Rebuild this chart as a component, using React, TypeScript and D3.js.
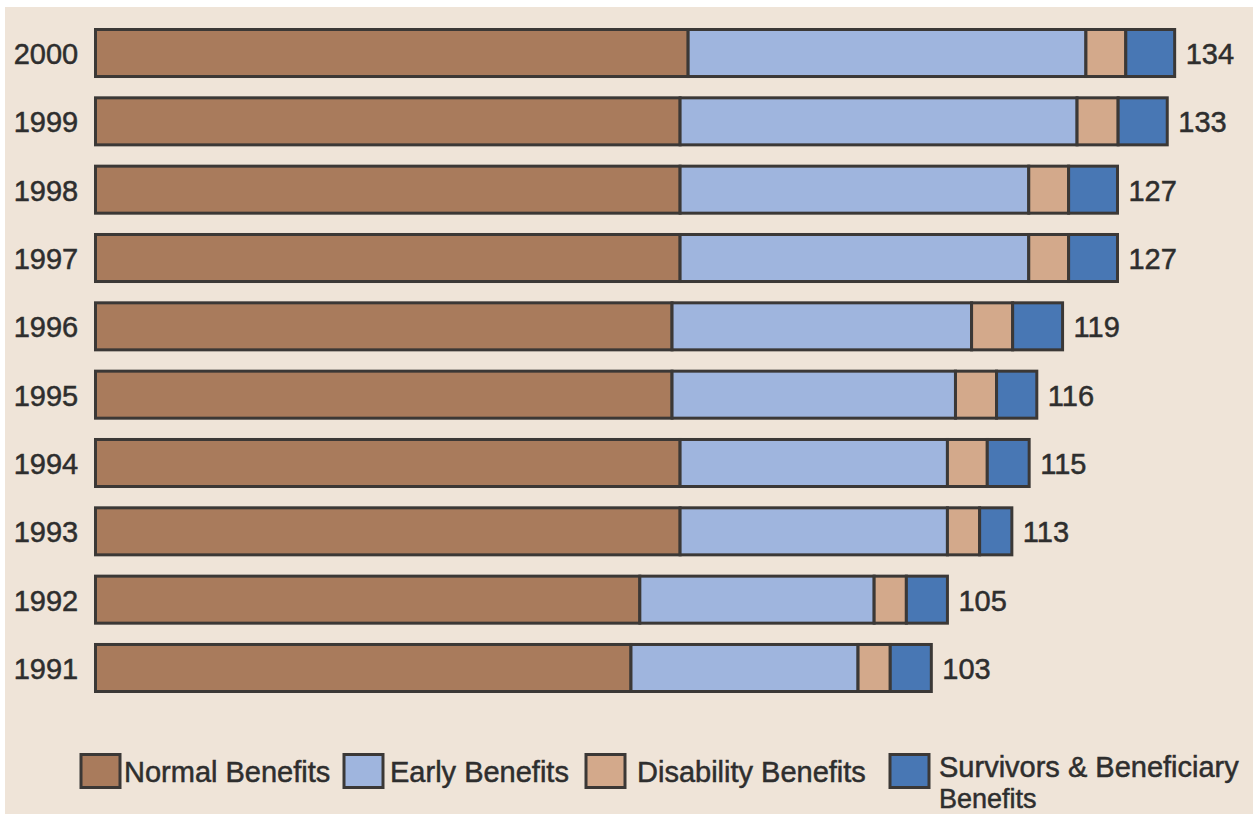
import React from "react";
import * as d3 from "d3";

const years = ["2000", "1999", "1998", "1997", "1996", "1995", "1994", "1993", "1992", "1991"];
const normalBenefits = [73.6, 72.6, 72.6, 72.6, 71.6, 71.6, 72.6, 72.6, 67.6, 66.5];
const earlyBenefits = [49.4, 49.3, 43.3, 43.3, 37.2, 35.2, 33.2, 33.2, 29.1, 28.2];
const disabilityBenefits = [4.95, 5.1, 4.95, 4.95, 5.1, 5.1, 4.95, 4.0, 4.0, 4.0];
const survivorsBenefits = [6.07, 6.1, 6.07, 6.07, 6.2, 5.0, 5.2, 4.0, 5.1, 5.1];
const totals = ["134", "133", "127", "127", "119", "116", "115", "113", "105", "103"];
const seriesNames = ["Normal Benefits", "Early Benefits", "Disability Benefits", "Survivors & Beneficiary Benefits"];

const COLORS = ["#a97b5c", "#9fb5de", "#d3a98b", "#4877b4"];
const STROKE = "#3b3836";
const BG = "#efe4d8";
const TEXT = "#2e2e2e";
const FONT = "'Liberation Sans', Arial, Helvetica, sans-serif";

export default function App() {
  const W = 1253;
  const H = 814;
  const series = [normalBenefits, earlyBenefits, disabilityBenefits, survivorsBenefits];
  const x = d3.scaleLinear().domain([0, 134]).range([95.5, 1174.5]);
  const y = d3.scaleBand<string>().domain(years).range([28, 693]).paddingInner(0.268).paddingOuter(0);
  const bw = y.bandwidth();

  const rows = years.map((yr, i) => {
    let acc = 0;
    const segs = series.map((s, k) => {
      const s0 = acc;
      acc += s[i];
      return { k, s0, s1: acc };
    });
    return { yr, i, segs, end: acc };
  });

  const legendItems = [
    { sx: 81, tx: 124 },
    { sx: 344, tx: 390 },
    { sx: 586, tx: 637 },
    { sx: 890, tx: 939 },
  ];

  const textProps = { fontSize: 29, fill: TEXT, stroke: TEXT, strokeWidth: 0.5 };

  return (
    <svg
      width={W}
      height={H}
      style={{ position: "absolute", left: 0, top: 0, background: "#ffffff" }}
      fontFamily={FONT}
    >
      <rect x={5} y={7} width={W - 5} height={H - 7} fill={BG} />
      {rows.map((r) => {
        const y0 = y(r.yr)!;
        const cy = y0 + bw / 2;
        return (
          <g key={r.yr}>
            <text x={46} y={cy + 11} textAnchor="middle" {...textProps}>
              {r.yr}
            </text>
            {r.segs.map((s) => (
              <rect
                key={s.k}
                x={x(s.s0)}
                y={y0 + 1.5}
                width={x(s.s1) - x(s.s0)}
                height={bw - 3}
                fill={COLORS[s.k]}
                stroke={STROKE}
                strokeWidth={3}
              />
            ))}
            <text x={x(r.end) + 11} y={cy + 11} {...textProps}>
              {totals[r.i]}
            </text>
          </g>
        );
      })}
      {seriesNames.map((name, k) => {
        const it = legendItems[k];
        const multi = k === 3;
        return (
          <g key={name}>
            <rect x={it.sx} y={754.5} width={39} height={33} fill={COLORS[k]} stroke={STROKE} strokeWidth={3} />
            {multi ? (
              <g>
                <text x={it.tx} y={777} {...textProps}>Survivors &amp; Beneficiary</text>
                <text x={it.tx} y={808} fontSize={27} fill={TEXT} stroke={TEXT} strokeWidth={0.5}>Benefits</text>
              </g>
            ) : (
              <text x={it.tx} y={782} {...textProps}>
                {name}
              </text>
            )}
          </g>
        );
      })}
    </svg>
  );
}
